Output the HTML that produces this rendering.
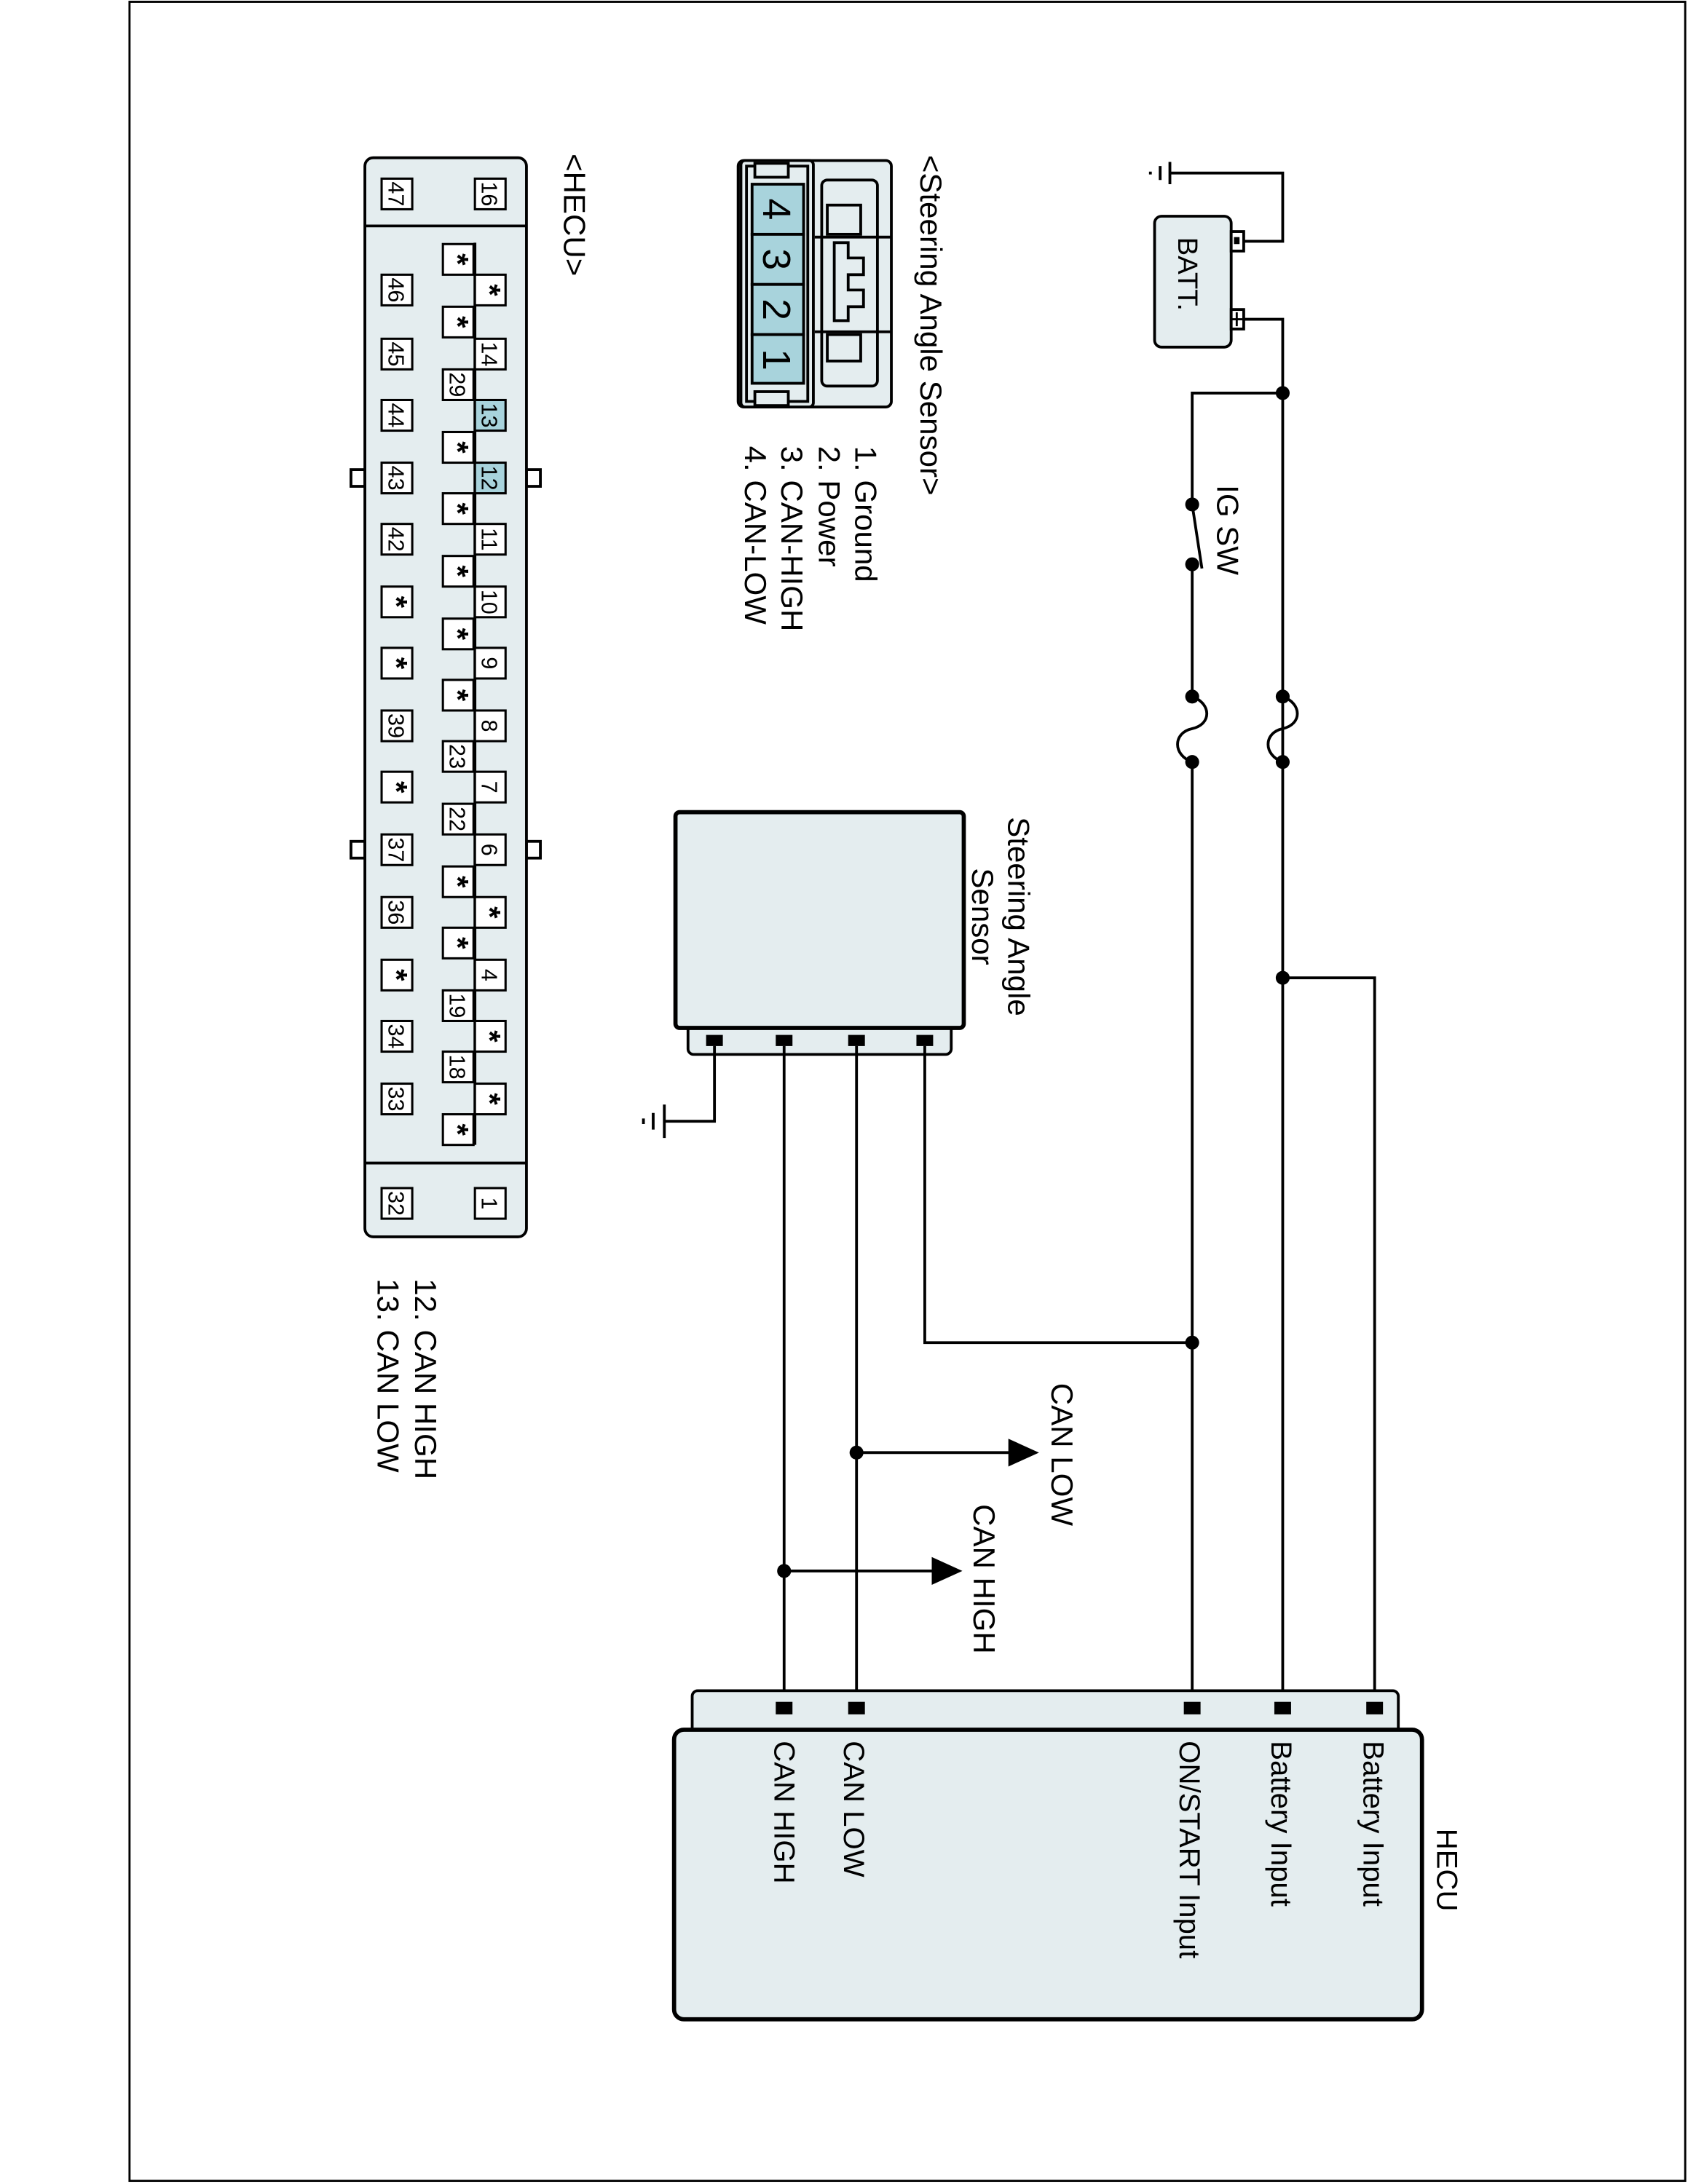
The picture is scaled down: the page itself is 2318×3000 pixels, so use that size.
<!DOCTYPE html>
<html><head><style>
html,body{margin:0;padding:0;background:#fff;}
svg{display:block;}
text{font-family:"Liberation Sans",Arial,sans-serif;fill:#000;}
.s{font-size:22px;font-weight:bold;}
</style></head><body>
<svg width="2318" height="3000" viewBox="0 0 1212 1568" xmlns="http://www.w3.org/2000/svg">
<rect x="93" y="1" width="1117" height="1565" fill="none" stroke="#000" stroke-width="1.5"/>

<!-- HECU connector -->
<g stroke="#000" stroke-width="2">
<rect x="252" y="337" width="10" height="12" fill="#fff"/>
<rect x="252" y="604" width="10" height="12" fill="#fff"/>
<rect x="378" y="337" width="10" height="12" fill="#fff"/>
<rect x="378" y="604" width="10" height="12" fill="#fff"/>
<rect x="262" y="113" width="116" height="775" rx="6" fill="#e4edef"/>
<line x1="262" y1="162" x2="378" y2="162"/>
<line x1="262" y1="835" x2="378" y2="835"/>
<line x1="341" y1="174" x2="341" y2="822"/>
</g>
<g stroke="#000" stroke-width="1.6" fill="#fff" font-size="16" text-anchor="middle">
<g><rect x="341" y="128" width="22" height="22"/><text transform="translate(352,139) rotate(90)" dy="6" stroke="none">16</text></g>
<g><rect x="341" y="197" width="22" height="22"/><text class="s" transform="translate(352,208) rotate(90)" dy="8" stroke="none">*</text></g>
<g><rect x="341" y="243" width="22" height="22"/><text transform="translate(352,254) rotate(90)" dy="6" stroke="none">14</text></g>
<g><rect x="341" y="287" width="22" height="22" fill="#a8d3dc"/><text transform="translate(352,298) rotate(90)" dy="6" stroke="none">13</text></g>
<g><rect x="341" y="332" width="22" height="22" fill="#a8d3dc"/><text transform="translate(352,343) rotate(90)" dy="6" stroke="none">12</text></g>
<g><rect x="341" y="376" width="22" height="22"/><text transform="translate(352,387) rotate(90)" dy="6" stroke="none">11</text></g>
<g><rect x="341" y="421" width="22" height="22"/><text transform="translate(352,432) rotate(90)" dy="6" stroke="none">10</text></g>
<g><rect x="341" y="465" width="22" height="22"/><text transform="translate(352,476) rotate(90)" dy="6" stroke="none">9</text></g>
<g><rect x="341" y="510" width="22" height="22"/><text transform="translate(352,521) rotate(90)" dy="6" stroke="none">8</text></g>
<g><rect x="341" y="554" width="22" height="22"/><text transform="translate(352,565) rotate(90)" dy="6" stroke="none">7</text></g>
<g><rect x="341" y="599" width="22" height="22"/><text transform="translate(352,610) rotate(90)" dy="6" stroke="none">6</text></g>
<g><rect x="341" y="644" width="22" height="22"/><text class="s" transform="translate(352,655) rotate(90)" dy="8" stroke="none">*</text></g>
<g><rect x="341" y="689" width="22" height="22"/><text transform="translate(352,700) rotate(90)" dy="6" stroke="none">4</text></g>
<g><rect x="341" y="733" width="22" height="22"/><text class="s" transform="translate(352,744) rotate(90)" dy="8" stroke="none">*</text></g>
<g><rect x="341" y="778" width="22" height="22"/><text class="s" transform="translate(352,789) rotate(90)" dy="8" stroke="none">*</text></g>
<g><rect x="341" y="853" width="22" height="22"/><text transform="translate(352,864) rotate(90)" dy="6" stroke="none">1</text></g>
<g><rect x="318" y="175" width="22" height="22"/><text class="s" transform="translate(329,186) rotate(90)" dy="8" stroke="none">*</text></g>
<g><rect x="318" y="220" width="22" height="22"/><text class="s" transform="translate(329,231) rotate(90)" dy="8" stroke="none">*</text></g>
<g><rect x="318" y="265" width="22" height="22"/><text transform="translate(329,276) rotate(90)" dy="6" stroke="none">29</text></g>
<g><rect x="318" y="310" width="22" height="22"/><text class="s" transform="translate(329,321) rotate(90)" dy="8" stroke="none">*</text></g>
<g><rect x="318" y="354" width="22" height="22"/><text class="s" transform="translate(329,365) rotate(90)" dy="8" stroke="none">*</text></g>
<g><rect x="318" y="399" width="22" height="22"/><text class="s" transform="translate(329,410) rotate(90)" dy="8" stroke="none">*</text></g>
<g><rect x="318" y="444" width="22" height="22"/><text class="s" transform="translate(329,455) rotate(90)" dy="8" stroke="none">*</text></g>
<g><rect x="318" y="488" width="22" height="22"/><text class="s" transform="translate(329,499) rotate(90)" dy="8" stroke="none">*</text></g>
<g><rect x="318" y="532" width="22" height="22"/><text transform="translate(329,543) rotate(90)" dy="6" stroke="none">23</text></g>
<g><rect x="318" y="577" width="22" height="22"/><text transform="translate(329,588) rotate(90)" dy="6" stroke="none">22</text></g>
<g><rect x="318" y="622" width="22" height="22"/><text class="s" transform="translate(329,633) rotate(90)" dy="8" stroke="none">*</text></g>
<g><rect x="318" y="666" width="22" height="22"/><text class="s" transform="translate(329,677) rotate(90)" dy="8" stroke="none">*</text></g>
<g><rect x="318" y="711" width="22" height="22"/><text transform="translate(329,722) rotate(90)" dy="6" stroke="none">19</text></g>
<g><rect x="318" y="755" width="22" height="22"/><text transform="translate(329,766) rotate(90)" dy="6" stroke="none">18</text></g>
<g><rect x="318" y="800" width="22" height="22"/><text class="s" transform="translate(329,811) rotate(90)" dy="8" stroke="none">*</text></g>
<g><rect x="274" y="128" width="22" height="22"/><text transform="translate(285,139) rotate(90)" dy="6" stroke="none">47</text></g>
<g><rect x="274" y="197" width="22" height="22"/><text transform="translate(285,208) rotate(90)" dy="6" stroke="none">46</text></g>
<g><rect x="274" y="243" width="22" height="22"/><text transform="translate(285,254) rotate(90)" dy="6" stroke="none">45</text></g>
<g><rect x="274" y="287" width="22" height="22"/><text transform="translate(285,298) rotate(90)" dy="6" stroke="none">44</text></g>
<g><rect x="274" y="332" width="22" height="22"/><text transform="translate(285,343) rotate(90)" dy="6" stroke="none">43</text></g>
<g><rect x="274" y="376" width="22" height="22"/><text transform="translate(285,387) rotate(90)" dy="6" stroke="none">42</text></g>
<g><rect x="274" y="421" width="22" height="22"/><text class="s" transform="translate(285,432) rotate(90)" dy="8" stroke="none">*</text></g>
<g><rect x="274" y="465" width="22" height="22"/><text class="s" transform="translate(285,476) rotate(90)" dy="8" stroke="none">*</text></g>
<g><rect x="274" y="510" width="22" height="22"/><text transform="translate(285,521) rotate(90)" dy="6" stroke="none">39</text></g>
<g><rect x="274" y="554" width="22" height="22"/><text class="s" transform="translate(285,565) rotate(90)" dy="8" stroke="none">*</text></g>
<g><rect x="274" y="599" width="22" height="22"/><text transform="translate(285,610) rotate(90)" dy="6" stroke="none">37</text></g>
<g><rect x="274" y="644" width="22" height="22"/><text transform="translate(285,655) rotate(90)" dy="6" stroke="none">36</text></g>
<g><rect x="274" y="689" width="22" height="22"/><text class="s" transform="translate(285,700) rotate(90)" dy="8" stroke="none">*</text></g>
<g><rect x="274" y="733" width="22" height="22"/><text transform="translate(285,744) rotate(90)" dy="6" stroke="none">34</text></g>
<g><rect x="274" y="778" width="22" height="22"/><text transform="translate(285,789) rotate(90)" dy="6" stroke="none">33</text></g>
<g><rect x="274" y="853" width="22" height="22"/><text transform="translate(285,864) rotate(90)" dy="6" stroke="none">32</text></g>
</g>

<!-- Sensor connector -->
<g stroke="#000" stroke-width="2" fill="#e4edef">
<rect x="530" y="115" width="110" height="177" rx="4"/>
<rect x="532" y="115" width="52" height="177" rx="3"/>
<rect x="536" y="119" width="44" height="169" fill="#e4edef"/>
<rect x="542" y="117" width="24" height="10"/>
<rect x="542" y="281" width="24" height="10"/>
<rect x="540" y="132" width="37" height="36" fill="#a8d3dc"/>
<rect x="540" y="168" width="37" height="36" fill="#a8d3dc"/>
<rect x="540" y="204" width="37" height="36" fill="#a8d3dc"/>
<rect x="540" y="240" width="37" height="35" fill="#a8d3dc"/>
<rect x="590" y="129" width="40" height="148" rx="4" fill="none"/>
<rect x="594" y="147" width="24" height="21" fill="none"/>
<rect x="594" y="240" width="24" height="19" fill="none"/>
<path d="M585,170 H640 M585,238 H640" fill="none"/>
<path d="M599,174 H609 V185 H620 V197 H609 V208 H620 V220 H609 V230 H599 Z" fill="none"/>
</g>
<g font-size="28" text-anchor="middle">
<text transform="translate(558,150) rotate(90)" dy="10">4</text>
<text transform="translate(558,186) rotate(90)" dy="10">3</text>
<text transform="translate(558,222) rotate(90)" dy="10">2</text>
<text transform="translate(558,258) rotate(90)" dy="10">1</text>
</g>

<!-- labels -->
<g font-size="22">
<text transform="translate(405,110) rotate(90)">&lt;HECU&gt;</text>
<text transform="translate(661,111) rotate(90)">&lt;Steering Angle Sensor&gt;</text>
<text transform="translate(614,320) rotate(90)">1. Ground</text>
<text transform="translate(588,320) rotate(90)">2. Power</text>
<text transform="translate(561,320) rotate(90)">3. CAN-HIGH</text>
<text transform="translate(535,320) rotate(90)">4. CAN-LOW</text>
<text transform="translate(298,918) rotate(90)">12. CAN HIGH</text>
<text transform="translate(271,918) rotate(90)">13. CAN LOW</text>
<text transform="translate(874,348) rotate(90)">IG SW</text>
<text transform="translate(724,658) rotate(90)" text-anchor="middle">Steering Angle</text>
<text transform="translate(698,658) rotate(90)" text-anchor="middle">Sensor</text>
<text transform="translate(755,993) rotate(90)">CAN LOW</text>
<text transform="translate(699,1080) rotate(90)">CAN HIGH</text>
</g>

<!-- Battery -->
<g stroke="#000" stroke-width="2" fill="none">
<rect x="829" y="155" width="55" height="94" rx="5" fill="#e4edef"/>
<rect x="884" y="166" width="9" height="14" fill="#fff"/>
<rect x="884" y="222" width="9" height="14" fill="#fff"/>
<path d="M893,173 H921 V124 H840"/>
<path d="M840,116 V132 M833,119 V129 M826,123 V125"/>
<path d="M893,229 H921 V1214"/>
<path d="M921,282 H856 V362"/>
<path d="M856,362 L863,408"/>
<path d="M856,405 V500"/>
<path d="M856,500 C870,505 870,520 856,523 C842,526 842,542 856,547"/>
<path d="M921,500 C935,505 935,520 921,523 C907,526 907,542 921,547"/>
<path d="M856,547 V1214"/>
<path d="M921,702 H987 V1214"/>
</g>
<g font-size="20"><text transform="translate(846,170) rotate(90)">BATT.</text></g>
<rect x="886" y="170" width="4" height="5" fill="#000"/>
<path d="M884,229 H892 M888,224 V234" stroke="#000" stroke-width="1.5"/>
<g fill="#000">
<ellipse cx="921" cy="282" rx="5" ry="5"/>
<ellipse cx="856" cy="362" rx="5" ry="5"/>
<ellipse cx="856" cy="405" rx="5" ry="5"/>
<ellipse cx="856" cy="500" rx="5" ry="5"/>
<ellipse cx="856" cy="547" rx="5" ry="5"/>
<ellipse cx="921" cy="500" rx="5" ry="5"/>
<ellipse cx="921" cy="547" rx="5" ry="5"/>
<ellipse cx="921" cy="702" rx="5" ry="5"/>
<ellipse cx="856" cy="964" rx="5" ry="5"/>
<ellipse cx="615" cy="1043" rx="5" ry="5"/>
<ellipse cx="563" cy="1128" rx="5" ry="5"/>
</g>

<!-- Steering Angle Sensor box -->
<g stroke="#000" fill="#e4edef">
<rect x="494" y="730" width="189" height="27" rx="4" stroke-width="2"/>
<rect x="485" y="583" width="207" height="155" rx="3" stroke-width="3"/>
</g>
<g fill="#000">
<rect x="507" y="743" width="12" height="8"/>
<rect x="557" y="743" width="12" height="8"/>
<rect x="609" y="743" width="12" height="8"/>
<rect x="658" y="743" width="12" height="8"/>
</g>
<g stroke="#000" stroke-width="2" fill="none">
<path d="M513,751 V805 H477"/>
<path d="M477,793 V817 M469,799 V811 M462,803 V807"/>
<path d="M563,751 V1214"/>
<path d="M615,751 V1214"/>
<path d="M664,751 V964 H856"/>
<path d="M615,1043 H730"/>
<path d="M563,1128 H675"/>
</g>
<g fill="#000">
<polygon points="724,1033 746,1043 724,1053"/>
<polygon points="669,1118 691,1128 669,1138"/>
</g>

<!-- HECU box -->
<g stroke="#000" fill="#e4edef">
<rect x="497" y="1214" width="507" height="36" rx="4" stroke-width="2"/>
<rect x="484" y="1242" width="537" height="208" rx="7" stroke-width="3"/>
</g>
<g fill="#000">
<rect x="557" y="1222" width="12" height="9"/>
<rect x="609" y="1222" width="12" height="9"/>
<rect x="850" y="1222" width="12" height="9"/>
<rect x="915" y="1222" width="12" height="9"/>
<rect x="981" y="1222" width="12" height="9"/>
</g>
<g font-size="21">
<text transform="translate(1032,1313) rotate(90)">HECU</text>
<text transform="translate(979,1250) rotate(90)">Battery Input</text>
<text transform="translate(913,1250) rotate(90)">Battery Input</text>
<text transform="translate(847,1250) rotate(90)">ON/START Input</text>
<text transform="translate(606,1250) rotate(90)">CAN LOW</text>
<text transform="translate(556,1250) rotate(90)">CAN HIGH</text>
</g>
</svg>
</body></html>
